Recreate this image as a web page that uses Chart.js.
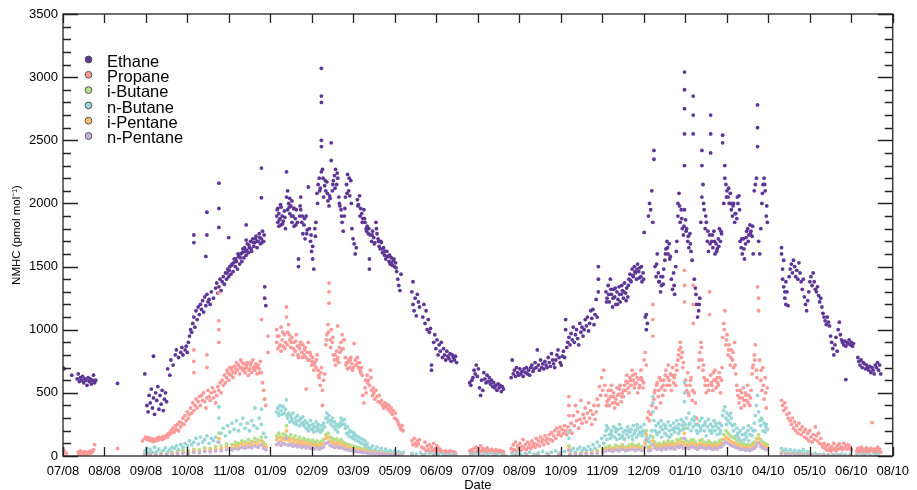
<!DOCTYPE html>
<html><head><meta charset="utf-8">
<script src="https://cdn.jsdelivr.net/npm/chart.js@4/dist/chart.umd.min.js"></script>
<style>html,body{margin:0;padding:0;background:#fff}#wrap{width:917px;height:490px}</style>
</head><body><div id="wrap"><canvas id="c" width="917" height="490"></canvas></div>
<script>
// x = days since 1 Jul 2008, y = pmol mol-1
const tickLabels = ["07/08","08/08","09/08","10/08","11/08","01/09","02/09","03/09","05/09","06/09","07/09","08/09","10/09","11/09","12/09","01/10","03/10","04/10","05/10","06/10","08/10"];
const seriesNames = ["Ethane","Propane","i-Butane","n-Butane","i-Pentane","n-Pentane"];
const seriesColors = ["#5e3796","#fb9a99","#b2df8a","#99d7d7","#fdbf6f","#cab2d6"];

const ethane = [[0,700],[1,690],[8,640],[13,610],[14,650],[15,590],[16,620],[17,600],[18,630],[19,580],[20,610],[21,600],[22,560],[23,620],[24,590],[25,610],[26,570],[27,600],[28,640],[29,580],[30,600],[50,575],
[75,650],[77,400],[78,350],[79,480],[80,420],[81,530],[82,380],[83,460],[83,790],[84,330],[85,500],[86,440],[87,550],[88,370],[89,480],[90,410],[91,520],[92,360],[93,450],[94,500],[95,430],
[96,690],[98,640],[99,760],[101,720],[103,800],[104,840],[106,780],[108,820],[109,860],[110,800],[112,840],[113,870],[114,820],[115,900],[116,950],[117,1000],[118,980],[119,1050],[120,1100],[121,1020],[122,1150],[123,1080],[124,1180],[125,1120],[126,1200],[127,1160],[128,1230],[129,1140],[130,1260],[131,1190],[132,1280],[133,1220],[134,1240],[135,1200],[136,1300],[138,1250],[140,1330],[141,1370],[142,1290],[143,1340],[144,1400],[145,1310],[146,1380],[147,1420],[148,1360],[149,1450],[150,1400],[151,1480],[152,1420],[153,1500],[154,1440],[155,1520],[156,1460],[157,1560],[158,1500],[159,1540],[160,1480],[161,1580],[162,1520],[163,1600],[164,1540],[165,1640],[166,1570],[167,1620],[168,1590],[169,1680],[170,1610],[171,1650],[172,1700],[173,1620],[174,1720],[175,1660],[176,1690],[177,1740],[178,1650],[179,1700],[180,1760],[181,1680],[182,1720],[183,1780],[184,1700],[185,1340],[185,1250],[186,1190],
[150.5,1450],[152.5,1470],[154.5,1510],[156.5,1530],[158.5,1560],[160.5,1600],[162.5,1570],[164.5,1610],[166.5,1650],[168.5,1630],[170.5,1670],[172.5,1640],[174.5,1690],[176.5,1720],[178.5,1700],[180.5,1730],[182.5,1690],[184.5,1750],
[120,1690],[120,1750],[131,1580],[132,1750],[132,1930],[143,1810],[143,1960],[143,2160],[152,1730],[168,1710],[168,1830],[182,2280],[182,2045],
[196,1900],[197,1850],[197,1960],[198,1820],[198,1920],[199,1880],[200,1970],[200,1830],[201,1900],[202,1860],[203,1940],[204,1800],[205,2250],[205,2050],[206,2100],[206,1950],[207,2000],[208,2040],[208,1920],[209,1980],[210,1850],[210,2020],[211,1900],[212,1960],[212,1820],[213,1880],[214,1950],[215,1850],[216,1560],[216,1500],[217,1900],[218,2050],[218,1950],[219,1850],[220,1760],[221,1830],[222,1720],[223,1900],[224,1790],[225,2130],[226,1800],[227,1700],[228,1620],[229,1560],[229,1660],[230,1480],[231,1800],[232,1850],[233,2080],[234,2150],[235,2200],[236,2120],[237,2250],[237,2450],[237,2500],[237,2800],[237,2850],[237,3070],[238,2270],[239,2050],[240,2140],[241,2100],[242,2170],[243,2020],[244,1980],[245,2040],[246,2480],[246,2340],[247,2100],[248,2180],[249,2220],[250,2270],[251,2150],[252,2200],[253,2050],[254,1980],[255,1950],[256,1850],[257,1780],[258,1900],[259,2050],[260,2150],[261,2230],[262,2100],[263,2060],[264,2180],[265,1800],[266,1720],[267,1680],[268,1600],[269,1650],[270,2030],[271,1990],[272,2060],[273,1960],[274,1920],[275,1880],[276,1950],[277,1850],[278,1800],[279,1820],[280,1760],[281,1560],[281,1480],[282,1750],[283,1700],[284,1780],[285,1730],[286,1690],[287,1850],[288,1760],[289,1720],[290,1660],[291,1640],[292,1690],[293,1610],[294,1650],[295,1590],[296,1560],[297,1620],[298,1580],[299,1540],[300,1520],[301,1570],[302,1510],[303,1550],[304,1500],[305,1530],[306,1460],[307,1400],[308,1350],[309,1310],[310,1440],
[196.5,1950],[198.5,1870],[199.5,1990],[201.5,1840],[203.5,1890],[207.5,1970],[209.5,1900],[211.5,1960],[213.5,1830],[217.5,1980],[219.5,1900],[221.5,1880],[223.5,1760],[227.5,1750],[231.5,1740],[233.5,2000],[235.5,2100],[238.5,2200],[240.5,2180],[242.5,2080],[244.5,2060],[247.5,2150],[249.5,2120],[251.5,2240],[253.5,2000],[255.5,1900],[258.5,1960],[260.5,2080],[262.5,2200],[264.5,2000],[270.5,1980],[272.5,1900],[274.5,1850],[276.5,1880],[278.5,1780],[280.5,1800],[283.5,1750],[285.5,1680],[287.5,1800],[289.5,1700],[291.5,1700],[293.5,1640],[295.5,1620],[297.5,1580],[299.5,1590],[301.5,1530],[303.5,1560],[305.5,1490],
[320,1300],[321,1200],[321,1380],[322,1150],[323,1250],[324,1110],[325,1280],[326,1220],[327,1180],[330,1100],[331,1200],[332,1050],[333,1150],[334,1000],[335,1080],[336,980],[337,1010],[338,680],[338,720],[340,900],[341,960],[342,850],[343,920],[344,800],[345,880],[346,830],[347,900],[348,780],[349,850],[350,800],[351,760],[352,830],[353,790],[354,770],[355,810],[356,750],[357,800],[358,780],[359,760],[360,790],[361,740],
[373,580],[374,560],[375,600],[376,620],[377,680],[378,650],[379,720],[380,630],[381,690],[382,540],[383,480],[384,600],[385,520],[386,660],[387,610],[388,580],[389,640],[390,590],[391,620],[392,570],[393,600],[394,550],[395,580],[396,540],[397,560],[398,520],[399,570],[400,540],[401,560],[402,510],[403,550],[404,530],
[411,620],[412,760],[413,650],[414,680],[415,630],[416,700],[417,660],[418,640],[419,690],[420,650],[421,670],[422,630],[423,690],[424,660],[425,700],[426,650],[427,680],[428,640],[429,700],[430,720],[431,670],[432,690],[433,740],[434,700],[435,840],[436,720],[437,680],[438,760],[439,700],[440,730],[441,690],[442,750],[443,720],[444,700],[445,780],[446,740],[447,710],[448,810],[449,760],[450,730],[451,700],[452,760],[453,800],[454,840],[455,780],[456,740],[457,720],[458,790],[459,830],[460,780],[461,1000],[461,1080],[462,860],[463,900],[464,940],[465,880],[466,970],[467,920],[468,1020],[469,900],[470,960],[471,1000],[472,930],[473,880],[474,1050],[475,980],[476,1020],[477,950],[478,1000],[479,1080],[480,1030],[481,1100],[482,990],[483,1050],[484,1150],[485,1090],[486,1160],[487,1040],[488,1120],[489,1240],[490,1100],[491,1300],[491,1400],[491,1500],
[498,1300],[499,1250],[500,1350],[501,1220],[502,1400],[503,1280],[504,1180],[505,1320],[506,1260],[507,1200],[508,1300],[509,1240],[510,1340],[511,1220],[512,1280],[513,1310],[514,1250],[515,1370],[516,1290],[517,1330],[518,1260],[519,1400],[520,1440],[521,1380],[522,1480],[523,1420],[524,1500],[525,1450],[526,1400],[527,1520],[528,1460],[529,1490],[530,1420],[531,1380],[532,1450],[533,1770],[534,1100],[535,1000],[535,1120],[536,1050],[537,1900],[538,2000],[539,1950],[540,2100],[541,1850],[542,2350],[542,2420],[543,1500],[544,1420],[545,1600],[546,1450],[547,1380],[548,1300],[549,1350],[550,1420],[551,1480],[552,1550],[553,1640],[554,1700],[555,1600],[556,1680],[557,1580],[558,1400],[559,1320],[560,1450],[561,1280],[562,1500],[563,1700],[564,1900],[564,2000],[565,2080],[566,1850],[567,1950],[568,1800],[569,1750],[570,2300],[570,2550],[570,2750],[570,2900],[570,3040],[570,1950],[571,1870],[572,1800],[573,1700],[574,1650],[575,1760],[576,1620],[577,1550],[578,2550],[578,2700],[578,2850],[579,1400],[580,1330],[581,1200],[582,1100],[583,1150],[584,1250],[585,1850],[586,2050],[586,2300],[586,2420],[587,2150],[588,1950],[589,1800],[590,1850],[591,1700],[592,1620],[593,1750],[594,2400],[594,2550],[594,2700],[595,1700],[596,1650],[597,1780],[598,1600],[599,1680],[600,1640],[601,1720],[602,1800],[603,1700],[604,1760],[605,2480],[605,2540],[606,2000],[607,2200],[607,2300],[608,2150],[609,2100],[610,2050],[611,2000],[612,2080],[613,1950],[614,1900],[615,2000],[616,1850],[617,1920],[618,1880],[619,2000],[620,2060],[621,1700],[622,1650],[623,1600],[624,1720],[625,1560],[626,1680],[627,1780],[628,1800],[629,1750],[630,1830],[631,1780],[632,1740],[633,1600],[634,2100],[635,2150],[636,2200],[637,2450],[637,2600],[637,2780],[638,1700],[639,1600],[640,1800],[641,2000],[642,2150],[643,2200],[644,2100],[645,1900],[646,1850],
[498.5,1220],[500.5,1280],[502.5,1320],[504.5,1250],[506.5,1330],[508.5,1200],[510.5,1280],[512.5,1350],[514.5,1300],[516.5,1230],[518.5,1350],[520.5,1390],[522.5,1430],[524.5,1460],[526.5,1480],[528.5,1410],[530.5,1500],[532.5,1400],[544.5,1520],[546.5,1380],[548.5,1420],[550.5,1360],[552.5,1600],[554.5,1650],[556.5,1560],[560.5,1350],[562.5,1620],[565.5,1980],[567.5,1880],[569.5,1820],[571.5,1780],[573.5,1740],[575.5,1680],[580.5,1280],[583.5,1200],[587.5,2000],[589.5,1900],[591.5,1780],[593.5,1680],[595.5,1750],[597.5,1700],[599.5,1620],[601.5,1660],[603.5,1780],[608.5,2050],[610.5,2120],[612.5,2000],[614.5,1980],[616.5,1920],[618.5,2050],[620.5,1950],[622.5,1720],[624.5,1640],[626.5,1730],[628.5,1700],[630.5,1760],[632.5,1820],[641.5,2080],[643.5,2150],[645.5,1980],
[659,1650],[659,1600],[660,1480],[660,1400],[661,1550],[661,1340],[662,1300],[662,1250],[663,1200],[663,1380],[664,1300],[665,1190],[666,1420],[667,1480],[668,1520],[669,1450],[670,1550],[671,1500],[672,1420],[673,1470],[674,1400],[675,1530],[676,1450],[677,1380],[678,1320],[679,1400],[680,1260],[681,1200],[682,1150],[683,1230],[684,1300],[685,1380],[686,1420],[687,1350],[688,1450],[689,1380],[690,1320],[691,1300],[692,1340],[693,1270],[694,1220],[695,1250],[696,1180],[697,1130],[698,1100],[699,1070],[700,1040],[701,1100],[702,1060],[703,1030],[704,950],[705,900],[706,850],[707,800],[708,880],[709,940],[710,830],[711,1000],[712,1060],[713,960],[714,920],[715,900],[716,880],[717,910],[718,605],[718,870],[719,900],[720,890],[721,920],[722,880],[723,900],[724,870],[725,890],[729,780],[730,750],[731,720],[732,760],[733,700],[734,740],[735,730],[736,690],[737,720],[738,700],[739,680],[740,710],[741,660],[742,700],[743,680],[744,650],[745,720],[746,700],[747,740],[748,680],[749,720],[750,650]];

const propane = [[0,60],[1,40],[3,20],[14,30],[15,10],[16,40],[17,20],[18,30],[19,15],[20,35],[21,25],[22,10],[23,30],[24,20],[25,40],[26,25],[27,35],[28,50],[29,90],[50,60],
[73,120],[75,140],[76,150],[77,130],[78,145],[79,125],[80,140],[81,120],[82,135],[83,115],[84,130],[85,120],[86,140],[87,125],[88,150],[89,135],[90,145],[91,130],[92,155],[93,140],[94,150],[95,165],[96,150],[97,180],[98,170],[99,200],[100,185],
[101,220],[102,190],[103,240],[104,210],[105,250],[106,200],[107,270],[108,230],[109,260],[110,300],[111,250],[112,320],[113,280],[114,350],[115,300],[116,330],[117,380],[118,340],[119,420],[120,360],[121,400],[122,450],[123,380],[124,430],[125,470],[126,400],[127,480],[128,440],[129,500],[130,430],[131,380],[132,460],[133,520],[134,470],[135,440],[136,500],[137,540],[138,460],[139,510],[140,420],[141,480],[142,550],[143,520],[144,580],[145,500],[146,600],[147,560],[148,640],[149,580],[150,620],[151,660],[152,600],[153,700],[154,640],[155,680],[156,620],[157,710],[158,660],[159,740],[160,680],[161,720],[162,650],[163,760],[164,700],[165,680],[166,730],[167,660],[168,700],[169,740],[170,640],[171,690],[172,720],[173,660],[174,760],[175,700],[176,680],[177,730],[178,650],[179,720],[180,690],[181,750],[182,660],[183,580],[184,520],[185,450],[186,400],
[150.5,680],[152.5,650],[154.5,700],[156.5,660],[158.5,690],[160.5,720],[162.5,700],[164.5,740],[166.5,690],[168.5,720],[170.5,680],[172.5,740],[174.5,690],[176.5,720],[178.5,700],[180.5,660],
[120,660],[120,750],[120,840],[132,700],[132,800],[143,900],[143,1000],[143,1070],[143,1290],[182,1080],[188,820],[188,950],
[196,900],[196,1000],[197,850],[198,950],[199,880],[200,1020],[200,830],[201,920],[202,870],[203,960],[204,900],[205,1100],[205,1180],[206,980],[206,880],[207,1040],[208,920],[209,860],[210,940],[211,800],[212,900],[213,830],[214,960],[215,870],[216,780],[217,850],[218,900],[219,820],[220,880],[221,800],[222,860],[223,530],[223,780],[224,820],[225,900],[226,760],[227,800],[228,720],[229,780],[230,680],[231,740],[232,700],[233,800],[234,680],[235,620],[236,560],[237,700],[238,400],[238,520],[239,600],[240,650],[241,880],[242,960],[243,1040],[244,1210],[244,1300],[244,1370],[245,920],[246,1000],[247,900],[248,800],[249,760],[250,720],[251,830],[252,1030],[252,780],[253,740],[254,820],[255,900],[256,960],[257,850],[258,920],[259,780],[260,740],[261,690],[262,760],[263,700],[264,780],[265,730],[266,700],[267,890],[268,760],[269,720],[270,780],[271,700],[272,740],[273,660],[274,700],[275,480],[276,420],[277,540],[278,500],[279,640],[280,600],[281,560],[282,680],[283,520],[284,480],[285,500],[286,450],[287,520],[288,470],[289,430],[290,480],[291,420],[292,440],[293,400],[294,380],[295,420],[296,390],[297,410],[298,370],[299,400],[300,350],[301,380],[302,330],[303,360],[304,300],[305,340],[306,290],[307,270],[308,250],[309,230],[310,210],[311,240],[312,200],
[196.5,950],[198.5,870],[201.5,980],[203.5,850],[207.5,960],[209.5,900],[211.5,850],[213.5,910],[215.5,800],[217.5,880],[219.5,780],[221.5,840],[224.5,760],[226.5,820],[228.5,750],[230.5,720],[232.5,760],[234.5,640],[236.5,660],[241.5,920],[243.5,980],[245.5,860],[247.5,940],[249.5,800],[251.5,760],[253.5,860],[255.5,840],[257.5,920],[259.5,720],[261.5,740],[263.5,760],[265.5,680],[268.5,720],[270.5,740],[272.5,680],[274.5,640],[277.5,600],[279.5,580],[282.5,620],[284.5,540],
[320,120],[321,90],[322,140],[323,100],[324,80],[325,120],[326,95],[327,130],[329,70],[331,60],[332,110],[333,40],[334,80],[335,50],[336,90],[337,30],[338,70],[339,45],[340,100],[341,55],[342,35],[343,80],[344,40],[345,60],[346,30],[347,45],[348,20],[349,35],[350,25],[351,40],[352,15],[353,30],[354,20],[355,40],[356,25],[357,35],[358,20],[359,30],[360,25],
[373,40],[374,20],[375,50],[376,30],[377,60],[378,25],[379,70],[380,40],[381,55],[382,30],[383,80],[384,45],[385,60],[386,35],[387,50],[388,25],[389,65],[390,40],[391,45],[392,30],[393,55],[394,20],[395,40],[396,30],[397,50],[398,25],[399,35],[400,45],[401,30],[402,40],[403,20],[404,35],
[411,60],[412,30],[413,90],[414,50],[415,110],[416,40],[417,80],[418,60],[419,100],[420,45],[421,75],[422,130],[423,60],[424,90],[425,50],[426,110],[427,70],[428,95],[429,60],[430,120],[431,80],[432,100],[433,70],[434,140],[435,90],[436,120],[437,80],[438,150],[439,110],[440,130],[441,90],[442,160],[443,120],[444,140],[445,100],[446,170],[447,130],[448,185],[449,120],[450,160],[451,200],[452,140],[453,220],[454,170],[455,190],[456,230],[457,160],[458,210],[459,180],[460,240],[461,200],[462,170],[463,230],[464,320],[464,400],[464,470],[465,200],[466,260],[467,180],[468,320],[469,240],[470,400],[471,280],[472,350],[473,220],[474,290],[475,440],[476,260],[477,330],[478,300],[479,380],[480,270],[481,340],[482,420],[483,300],[484,360],[485,250],[486,330],[487,400],[488,290],[489,350],[490,450],[491,400],[492,550],[493,480],[494,620],[495,520],[496,680],[497,560],
[498,480],[499,430],[500,520],[501,400],[502,470],[503,560],[504,420],[505,500],[506,380],[507,450],[508,540],[509,410],[510,490],[511,560],[512,430],[513,500],[514,470],[515,560],[516,520],[517,640],[518,580],[519,500],[520,620],[521,560],[522,680],[523,600],[524,540],[525,650],[526,580],[527,500],[528,610],[529,560],[530,680],[531,600],[532,540],[533,760],[534,820],[535,720],[536,300],[537,350],[538,280],[539,330],[540,400],[541,950],[541,1080],[541,1200],[542,450],[543,520],[544,380],[545,580],[546,470],[547,620],[548,420],[549,540],[550,480],[551,600],[552,520],[553,680],[554,560],[555,720],[556,600],[557,650],[558,520],[559,700],[560,580],[561,640],[562,560],[563,680],[564,760],[565,840],[566,900],[567,780],[568,820],[569,740],[570,1220],[570,1350],[570,1470],[571,600],[572,520],[573,660],[574,480],[575,560],[576,620],[577,440],[578,1050],[578,1200],[578,1350],[579,500],[580,420],[581,300],[582,250],[583,700],[584,820],[585,900],[586,760],[587,680],[588,620],[589,560],[590,500],[591,600],[592,520],[593,1120],[593,1300],[594,640],[595,560],[596,520],[597,600],[598,680],[599,540],[600,620],[601,560],[602,660],[603,500],[604,600],[605,940],[606,1050],[607,1150],[608,880],[609,960],[610,800],[611,880],[612,720],[613,840],[614,760],[615,700],[616,900],[617,650],[618,560],[619,480],[620,420],[621,520],[622,380],[623,460],[624,540],[625,400],[626,500],[627,440],[628,560],[629,480],[630,400],[631,520],[632,650],[633,720],[634,800],[635,880],[636,680],[637,1340],[638,1150],[638,1250],[639,760],[640,600],[641,520],[642,700],[643,450],[644,620],[645,380],[646,540],
[498.5,400],[500.5,450],[502.5,520],[504.5,470],[506.5,420],[508.5,480],[510.5,530],[512.5,470],[514.5,520],[516.5,590],[518.5,540],[520.5,600],[522.5,640],[524.5,570],[526.5,620],[528.5,540],[530.5,620],[532.5,580],[542.5,500],[544.5,560],[546.5,520],[548.5,600],[550.5,560],[552.5,640],[554.5,620],[556.5,560],[558.5,640],[560.5,620],[562.5,720],[564.5,800],[566.5,860],[568.5,700],[571.5,560],[573.5,500],[575.5,600],[577.5,520],[583.5,760],[585.5,860],[587.5,720],[589.5,600],[591.5,560],[594.5,580],[596.5,660],[598.5,600],[600.5,580],[602.5,620],[604.5,700],[606.5,1000],[608.5,920],[610.5,840],[612.5,780],[614.5,820],[616.5,720],[618.5,520],[620.5,460],[622.5,500],[624.5,440],[626.5,480],[628.5,420],[630.5,460],[632.5,700],[634.5,760],[636.5,620],[640.5,680],[642.5,560],[644.5,500],
[659,440],[660,400],[661,360],[662,420],[663,380],[664,330],[665,300],[666,340],[667,280],[668,250],[669,300],[670,220],[671,270],[672,200],[673,240],[674,180],[675,260],[676,210],[677,170],[678,230],[679,190],[680,150],[681,210],[682,140],[683,180],[684,120],[685,200],[686,150],[687,110],[688,170],[689,130],[690,230],[691,160],[692,120],[693,180],[694,100],[695,140],[696,90],[697,70],[698,100],[699,60],[700,80],[701,45],[702,90],[703,60],[704,40],[705,75],[706,50],[707,100],[708,60],[709,40],[710,80],[711,55],[712,95],[713,60],[714,70],[715,50],[716,100],[717,65],[718,80],[719,55],[720,90],[721,60],[722,75],[723,50],[728,40],[729,60],[730,30],[731,50],[732,70],[733,35],[734,55],[735,25],[736,45],[737,65],[738,30],[739,50],[740,40],[741,60],[742,265],[743,35],[744,55],[745,30],[746,50],[747,70],[748,40],[749,55],[750,30]];

const iButane = [[75,15],[80,20],[85,15],[90,25],[95,20],[100,30],[105,35],[110,45],[115,40],[120,55],[125,50],[130,65],[135,60],[140,75],[143,180],[145,80],[150,95],[155,90],[158,110],[161,100],[164,120],[167,110],[170,130],[173,115],[176,140],[179,125],[182,150],[184,110],[186,90],
[196,160],[198,180],[200,150],[202,175],[204,165],[205,240],[207,150],[209,170],[211,140],[213,160],[215,130],[217,150],[219,125],[221,140],[223,120],[225,130],[227,110],[229,125],[231,105],[233,120],[235,100],[237,115],[239,130],[241,170],[243,180],[245,150],[247,140],[249,125],[251,135],[253,115],[255,130],[257,110],[259,100],[261,90],[263,85],[265,80],[267,75],[269,70],[271,65],[273,60],[275,55],[277,60],[279,50],[281,45],[284,40],[287,35],[290,30],[293,25],[296,25],[299,20],[302,18],[305,15],[308,12],[311,10],
[320,8],[330,6],[340,5],[350,5],[360,4],[375,5],[385,5],[395,4],[405,5],[415,6],[425,8],[435,10],[445,12],[455,15],[464,80],[465,15],[470,20],[475,25],[480,30],[485,35],[490,45],[495,55],
[498,70],[501,80],[504,65],[507,85],[510,75],[513,90],[516,70],[519,85],[522,95],[525,80],[528,90],[531,75],[534,120],[535,200],[537,70],[539,80],[541,150],[543,110],[545,90],[547,100],[549,85],[551,110],[553,95],[555,120],[557,100],[559,115],[561,95],[563,130],[565,120],[567,140],[569,110],[570,220],[572,120],[574,105],[576,125],[578,130],[580,110],[582,90],[584,120],[586,130],[588,110],[590,100],[592,120],[594,105],[596,95],[598,110],[600,100],[602,120],[604,130],[606,170],[608,200],[610,180],[612,160],[614,150],[616,140],[618,120],[620,110],[622,95],[624,100],[626,85],[628,90],[630,80],[632,95],[634,110],[636,140],[638,170],[640,130],[642,110],[644,100],[646,90],
[659,30],[663,25],[667,20],[671,18],[675,15],[679,15],[683,12],[687,10],[692,8],[697,7],[702,6],[707,6],[712,5],[717,5],[722,5],[728,4],[734,5],[740,4],[746,5]];

const nButane = [[75,40],[77,60],[78,25],[80,50],[82,30],[84,70],[86,35],[88,55],[90,20],[92,45],[94,65],[96,30],[98,50],[100,70],
[102,60],[104,80],[106,50],[108,90],[110,70],[112,100],[114,80],[116,120],[118,90],
[120,110],[122,140],[124,95],[126,150],[128,110],[130,130],[132,160],[134,100],[136,140],[138,120],[140,150],[142,110],[143,390],[143,300],
[145,180],[147,220],[149,160],[151,240],[153,190],[155,260],[157,210],[159,280],[161,200],[163,250],[165,300],[167,220],[169,260],[171,200],[173,280],[175,240],[176,380],[178,220],[180,300],[182,370],[182,250],[184,180],[186,150],
[196,350],[197,380],[198,320],[199,400],[200,360],[201,330],[202,390],[203,340],[204,370],[205,445],[206,300],[207,340],[208,270],[209,320],[210,280],[211,340],[212,260],[213,300],[214,250],[215,320],[216,280],[217,240],[218,300],[219,260],[220,310],[221,240],[222,280],[223,220],[224,260],[225,200],[226,240],[227,280],[228,210],[229,250],[230,190],[231,230],[232,270],[233,200],[234,250],[235,210],[236,190],[237,240],[238,210],[239,260],[240,230],[241,300],[242,340],[243,270],[244,320],[245,280],[246,250],[247,300],[248,230],[249,270],[250,210],[251,250],[252,190],[253,230],[254,260],[255,300],[256,280],[257,250],[258,290],[259,220],[260,180],[261,230],[262,160],[263,200],[264,150],[265,190],[266,140],[267,180],[268,130],[269,160],[270,120],[271,150],[272,110],[273,140],[274,100],[275,130],[276,90],[277,120],[278,80],[279,100],[280,70],[282,60],[284,80],[286,50],[288,70],[290,40],[292,60],[294,35],[296,55],[298,30],[300,45],[302,25],[304,40],[306,20],[308,35],[310,20],[312,30],
[197.5,340],[201.5,390],[205.5,320],[209.5,300],[213.5,270],[217.5,290],[221.5,270],[225.5,230],[229.5,220],[233.5,230],[237.5,200],[242.5,300],[246.5,280],[250.5,240],[254.5,240],[258.5,250],[262.5,190],[266.5,160],
[320,20],[324,15],[328,25],[332,10],[336,20],[340,15],[344,10],[348,20],[352,8],[356,15],[360,10],[374,15],[378,20],[382,10],[386,18],[390,12],[394,20],[398,10],[402,15],[412,15],[416,25],[420,12],[424,20],[428,30],[432,15],[436,25],[440,35],[444,20],[448,30],[452,40],[456,25],[460,35],
[464,140],[464,190],[466,40],[468,60],[470,30],[472,55],[474,70],[476,40],[478,60],[480,45],[482,75],[484,50],[486,90],[488,60],[490,110],[492,80],[494,140],[496,100],
[497,160],[498,200],[499,130],[500,220],[501,170],[502,140],[503,200],[504,160],[505,230],[506,150],[507,190],[508,130],[509,210],[510,170],[511,140],[512,220],[513,160],[514,190],[515,130],[516,200],[517,170],[518,230],[519,150],[520,190],[521,210],[522,160],[523,240],[524,180],[525,200],[526,150],[527,220],[528,170],[529,190],[530,230],[531,160],[532,200],[533,250],[534,180],[535,150],[536,120],[537,140],[538,110],[539,160],[540,200],[541,350],[541,420],[541,470],[542,280],[543,200],[544,240],[545,170],[546,260],[547,190],[548,230],[549,150],[550,210],[551,250],[552,180],[553,220],[554,160],[555,270],[556,200],[557,240],[558,170],[559,210],[560,260],[561,190],[562,230],[563,280],[564,220],[565,250],[566,200],[567,290],[568,240],[569,270],[570,430],[570,500],[570,580],[571,250],[572,300],[573,220],[574,340],[575,260],[576,200],[577,290],[578,230],[579,310],[580,250],[581,200],[582,180],[583,240],[584,280],[585,220],[586,300],[587,240],[588,200],[589,270],[590,160],[591,230],[592,290],[593,200],[594,250],[595,180],[596,230],[597,280],[598,200],[599,240],[600,170],[601,220],[602,260],[603,200],[604,240],[605,320],[606,360],[607,390],[608,300],[609,340],[610,280],[611,320],[612,260],[613,300],[614,240],[615,200],[616,250],[617,160],[618,220],[619,180],[620,140],[621,200],[622,120],[623,170],[624,220],[625,130],[626,180],[627,150],[628,200],[629,120],[630,170],[631,220],[632,160],[633,200],[634,260],[635,320],[636,400],[637,480],[638,350],[639,280],[640,240],[641,290],[642,200],[643,260],[644,190],[645,250],[646,210],
[498.5,240],[502.5,180],[506.5,220],[510.5,250],[514.5,140],[518.5,200],[522.5,130],[526.5,250],[530.5,180],[544.5,180],[548.5,280],[552.5,240],[556.5,150],[560.5,220],[564.5,180],[568.5,210],[574.5,250],[578.5,280],[584.5,200],[588.5,250],[594.5,200],[598.5,260],[602.5,180],[608.5,250],[612.5,340],[618.5,160],[624.5,170],[628.5,240],[634.5,200],[640.5,300],[644.5,230],
[659,60],[661,40],[663,55],[665,30],[667,50],[669,25],[671,45],[673,20],[675,40],[677,30],[679,50],[681,25],[683,35],[686,15],[690,20],[694,10],[698,15],[702,8],[706,12],[710,10],[714,15],[718,10],[722,12],[728,10],[732,15],[736,8],[740,12],[744,10],[748,15]];

const iPentane = [[75,10],[80,12],[85,10],[90,15],[95,12],[100,20],[105,25],[110,30],[115,28],[120,40],[125,35],[130,50],[135,45],[140,55],[143,140],[145,60],[150,70],[155,65],[158,85],[161,75],[164,95],[167,85],[170,100],[173,90],[176,110],[179,95],[182,120],[184,85],[186,70],
[196,130],[198,150],[200,120],[202,140],[204,130],[205,200],[207,120],[209,135],[211,110],[213,125],[215,100],[217,115],[219,95],[221,110],[223,90],[225,100],[227,85],[229,95],[231,80],[233,90],[235,75],[237,90],[239,100],[241,140],[243,150],[245,120],[247,110],[249,95],[251,105],[253,90],[255,100],[257,85],[259,75],[261,70],[263,65],[265,60],[267,55],[269,50],[271,48],[273,45],[275,40],[277,42],[279,35],[281,32],[284,28],[287,25],[290,22],[293,20],[296,18],[299,15],[302,14],[305,12],[308,10],[311,8],
[320,6],[330,5],[340,4],[350,4],[360,3],[375,4],[385,4],[395,3],[405,4],[415,5],[425,6],[435,8],[445,10],[455,12],[464,60],[465,12],[470,15],[475,18],[480,22],[485,25],[490,32],[495,40],
[498,55],[501,60],[504,50],[507,65],[510,55],[513,70],[516,55],[519,65],[522,75],[525,60],[528,70],[531,58],[534,100],[535,170],[537,55],[539,62],[541,120],[543,85],[545,70],[547,78],[549,65],[551,85],[553,72],[555,95],[557,78],[559,90],[561,72],[563,100],[565,92],[567,110],[569,85],[570,180],[572,92],[574,80],[576,95],[578,100],[580,85],[582,70],[584,92],[586,100],[588,85],[590,75],[592,92],[594,80],[596,72],[598,85],[600,75],[602,92],[604,100],[606,130],[608,150],[610,135],[612,120],[614,110],[616,100],[618,90],[620,80],[622,70],[624,75],[626,62],[628,68],[630,60],[632,70],[634,85],[636,110],[638,140],[640,100],[642,85],[644,75],[646,68],
[659,22],[663,18],[667,15],[671,14],[675,12],[679,12],[683,10],[687,8],[692,6],[697,6],[702,5],[707,5],[712,4],[717,4],[722,4],[728,3],[734,4],[740,3],[746,4]];

const nPentane = [[75,8],[80,10],[85,8],[90,12],[95,10],[100,15],[105,18],[110,22],[115,20],[120,28],[125,25],[130,35],[135,32],[140,40],[143,110],[145,42],[150,50],[155,48],[158,60],[161,55],[164,68],[167,62],[170,72],[173,65],[176,80],[179,70],[182,88],[184,62],[186,50],
[196,90],[198,105],[200,85],[202,100],[204,92],[205,140],[207,85],[209,95],[211,78],[213,88],[215,72],[217,82],[219,68],[221,78],[223,64],[225,72],[227,60],[229,68],[231,56],[233,64],[235,54],[237,64],[239,72],[241,100],[243,108],[245,85],[247,78],[249,68],[251,75],[253,64],[255,70],[257,60],[259,54],[261,50],[263,46],[265,42],[267,40],[269,36],[271,34],[273,32],[275,28],[277,30],[279,25],[281,22],[284,20],[287,18],[290,16],[293,14],[296,12],[299,11],[302,10],[305,8],[308,7],[311,6],
[320,5],[330,4],[340,3],[350,3],[360,3],[375,3],[385,3],[395,3],[405,3],[415,4],[425,5],[435,6],[445,7],[455,9],[464,45],[465,9],[470,11],[475,13],[480,16],[485,18],[490,23],[495,28],
[498,40],[501,44],[504,36],[507,48],[510,40],[513,52],[516,40],[519,48],[522,55],[525,44],[528,52],[531,42],[534,75],[535,130],[537,40],[539,46],[541,90],[543,62],[545,52],[547,58],[549,48],[551,62],[553,54],[555,70],[557,58],[559,66],[561,54],[563,74],[565,68],[567,80],[569,62],[570,140],[572,68],[574,58],[576,70],[578,74],[580,62],[582,52],[584,68],[586,74],[588,62],[590,56],[592,68],[594,58],[596,52],[598,62],[600,55],[602,68],[604,74],[606,95],[608,110],[610,100],[612,88],[614,80],[616,74],[618,66],[620,58],[622,52],[624,55],[626,46],[628,50],[630,44],[632,52],[634,62],[636,80],[638,105],[640,74],[642,62],[644,55],[646,50],
[659,15],[663,12],[667,10],[671,9],[675,8],[679,8],[683,7],[687,6],[692,5],[697,4],[702,4],[707,4],[712,3],[717,3],[722,3],[728,3],[734,3],[740,3],[746,3]];

const X_MAX = 761;  // days from 1 Jul 2008 to 1 Aug 2010
const FONT = "'Liberation Sans', Arial, Helvetica, sans-serif";
const seriesData = [ethane, propane, iButane, nButane, iPentane, nPentane];

const frameTicks = {
  id: 'frameTicks',
  afterDraw(chart) {
    const {ctx, chartArea: a, scales} = chart;
    const xs = scales.x, ys = scales.y;
    ctx.save();
    ctx.strokeStyle = '#222';
    ctx.lineWidth = 1.3;
    ctx.strokeRect(a.left, a.top, a.right - a.left, a.bottom - a.top);
    ctx.beginPath();
    xs.ticks.forEach(t => {
      const px = Math.round(xs.getPixelForValue(t.value)) + 0.5;
      ctx.moveTo(px, a.bottom); ctx.lineTo(px, a.bottom - 9);
      ctx.moveTo(px, a.top); ctx.lineTo(px, a.top + 9);
    });
    for (let v = 0; v <= 3500; v += 100) {
      const py = Math.round(ys.getPixelForValue(v)) + 0.5;
      const len = v % 500 === 0 ? 15 : 8;
      ctx.moveTo(a.left, py); ctx.lineTo(a.left + len, py);
      ctx.moveTo(a.right, py); ctx.lineTo(a.right - len, py);
    }
    ctx.stroke();
    // legend
    ctx.font = '16.5px ' + FONT;
    ctx.textAlign = 'left';
    ctx.textBaseline = 'alphabetic';
    chart.data.datasets.forEach((ds, i) => {
      const cy = 59.5 + i * 15.3;
      ctx.beginPath();
      ctx.arc(88.5, cy, 3.4, 0, Math.PI * 2);
      ctx.fillStyle = ds.backgroundColor;
      ctx.fill();
      ctx.lineWidth = 1;
      ctx.strokeStyle = '#555';
      ctx.stroke();
      ctx.fillStyle = '#000';
      ctx.fillText(ds.label, 107, cy + 7.2);
    });
    ctx.restore();
  }
};

new Chart(document.getElementById('c'), {
  type: 'scatter',
  data: {
    datasets: seriesNames.map((name, i) => ({
      label: name,
      data: seriesData[i].map(p => ({x: p[0], y: p[1]})),
      backgroundColor: seriesColors[i],
      borderWidth: 0,
      pointRadius: 1.9,
      pointHoverRadius: 1.9,
      order: 6 - i
    }))
  },
  options: {
    responsive: false,
    animation: false,
    events: [],
    layout: {padding: {top: 14, right: 18, left: 0, bottom: 0}},
    plugins: {legend: {display: false}, tooltip: {enabled: false}},
    scales: {
      x: {
        type: 'linear', min: 0, max: X_MAX,
        afterBuildTicks: s => { s.ticks = tickLabels.map((_, i) => ({value: i * X_MAX / 20})); },
        afterFit: s => { s.height = 34; },
        grid: {display: false, drawTicks: false},
        border: {display: false},
        ticks: {autoSkip: false, maxRotation: 0, padding: 8, color: '#000',
          font: {family: FONT, size: 13},
          callback: (v, i) => tickLabels[i]},
        title: {display: true, text: 'Date', color: '#000',
          font: {family: FONT, size: 13, lineHeight: 1}, padding: {top: 0, bottom: -1.5}}
      },
      y: {
        min: 0, max: 3500,
        afterFit: s => { s.width = 63; },
        grid: {display: false, drawTicks: false},
        border: {display: false},
        ticks: {stepSize: 500, padding: 5, color: '#000', font: {family: FONT, size: 13},
          callback: v => String(v)},
        title: {display: true, text: 'NMHC (pmol mol\u207B\u00B9)', color: '#000',
          font: {family: FONT, size: 11.5}, padding: {top: 10, bottom: 0}}
      }
    }
  },
  plugins: [frameTicks]
});
</script>
</body></html>
